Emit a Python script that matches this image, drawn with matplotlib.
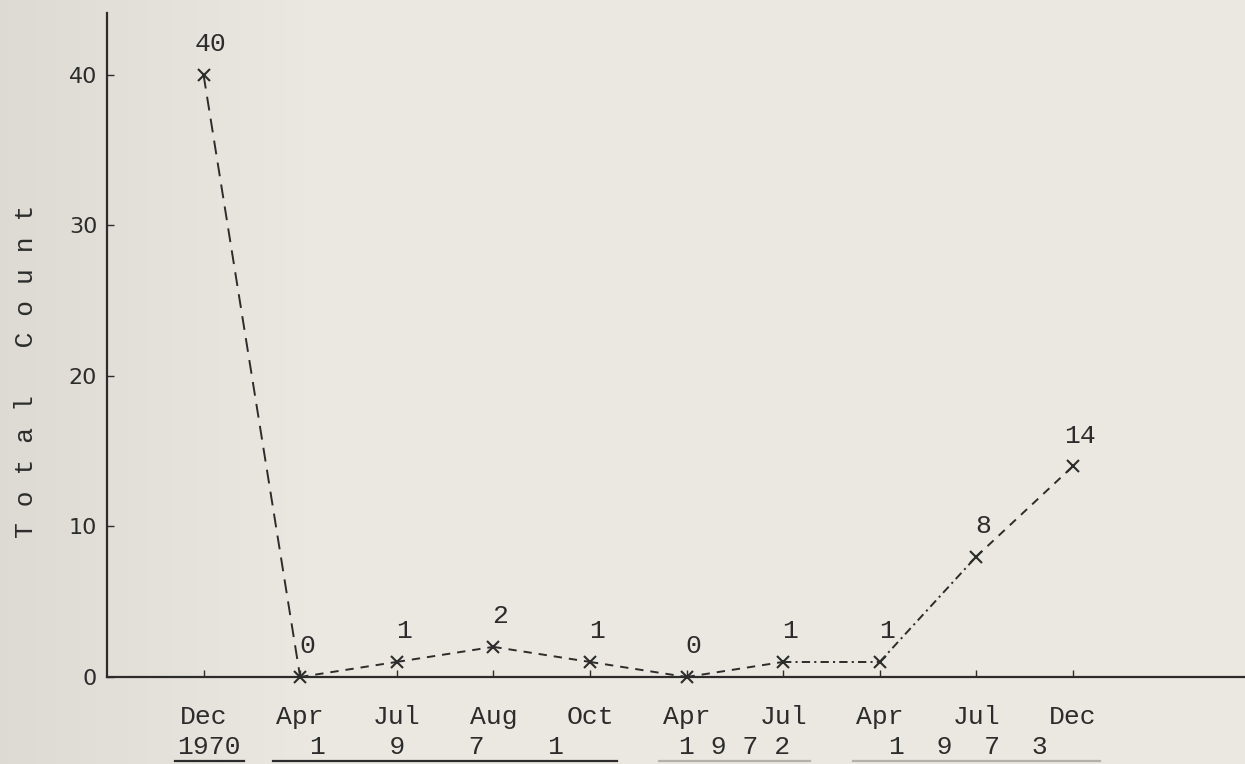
import numpy as np
import matplotlib.pyplot as plt
import matplotlib.transforms as mtransforms

# Data
months = ["Dec", "Apr", "Jul", "Aug", "Oct", "Apr", "Jul", "Apr", "Jul", "Dec"]
counts = [40, 0, 1, 2, 1, 0, 1, 1, 8, 14]
years = ["1970", "1    9    7    1", "1 9 7 2", "1  9  7  3"]
months_per_year = [1, 4, 2, 3]
yticks = [0, 10, 20, 30, 40]

# Look
ink = "#2c2c2c"
paper = "#eae8e0"
mono = ["Liberation Mono", "DejaVu Sans Mono"]
plt.rcParams["lines.scale_dashes"] = False

fig = plt.figure(figsize=(12.45, 7.64), dpi=100, facecolor=paper)

# scanned paper: a bit greyer towards the left edge
bg = fig.add_axes([0, 0, 1, 1], zorder=-10)
shade = np.clip(np.linspace(0, 1, 400) / 0.25, 0, 1)
left_col = np.array([0.865, 0.858, 0.830])
right_col = np.array([0.918, 0.910, 0.880])
grad = left_col[None, :] + (right_col - left_col)[None, :] * shade[:, None]
bg.imshow(grad[None, :, :], aspect="auto", extent=[0, 1, 0, 1])
bg.axis("off")

ax = fig.add_axes([0.0859, 0.1139, 0.914, 0.869])
ax.patch.set_alpha(0)
ax.set_xlim(0, 11.78)
ax.set_ylim(0, 44.1)

xs = list(range(1, len(counts) + 1))

# each segment has its own dash pattern in the original
long_dash = (0, (10, 6))
short_dash = (0, (6, 5))
dash_dot = (0, (6, 3, 1.5, 3))
seg_styles = [long_dash] + [short_dash] * 5 + [dash_dot] * 2 + [short_dash]
for i, ls in enumerate(seg_styles):
    ax.plot(xs[i:i + 2], counts[i:i + 2], color=ink, lw=1.4, ls=ls, clip_on=False)

ax.plot(xs, counts, ls="none", marker="x", ms=9, mew=1.5, color=ink, clip_on=False)

for x, c in zip(xs, counts):
    ax.annotate(str(c), (x, c), xytext=(5, 22), textcoords="offset points",
                ha="center", va="center", fontsize=19, family=mono, color=ink)

# axes frame
for s in ["top", "right"]:
    ax.spines[s].set_visible(False)
for s in ["left", "bottom"]:
    ax.spines[s].set_linewidth(1.6)
    ax.spines[s].set_color(ink)

ax.set_yticks(yticks)
ax.tick_params(axis="y", direction="in", length=5, width=1, pad=7,
               labelsize=16, colors=ink)
ax.set_xticks(xs, months)
ax.tick_params(axis="x", direction="in", length=5, width=1, pad=20, colors=ink)
for lab in ax.get_xticklabels():
    lab.set_fontfamily(mono)
    lab.set_fontsize(19)

ax.set_ylabel("T o t a l   C o u n t", family=mono, fontsize=19, color=ink)
ax.yaxis.set_label_coords(-0.061, 0.46)

# year row under the months, with underlines
trans = mtransforms.blended_transform_factory(ax.transData, ax.transAxes)
under_colors = [ink, ink, "#b3b1a9", "#b3b1a9"]
year_nudge = [0.06, -0.08, 0.0, -0.08]  # typed slightly off-centre
start = 0
for label, n, uc, dx in zip(years, months_per_year, under_colors, year_nudge):
    group = xs[start:start + n]
    start += n
    center = sum(group) / len(group) + dx
    ax.text(center, -0.105, label, transform=trans, ha="center", va="center",
            fontsize=19, family=mono, color=ink)
    if n == 1:
        lo, hi = center - 0.36, center + 0.36
    else:
        lo, hi = group[0] - 0.28, group[-1] + 0.28
    ax.plot([lo, hi], [-0.127, -0.127], transform=trans, color=uc, lw=1.6,
            clip_on=False)

fig.savefig("out.png", dpi=100, facecolor=paper)
